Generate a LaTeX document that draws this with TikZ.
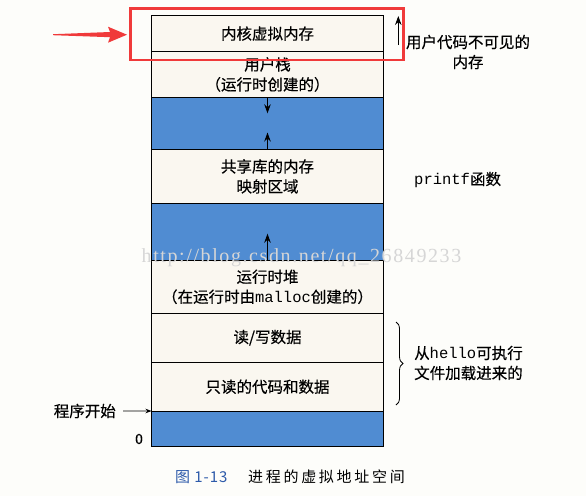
\documentclass[tikz,border=0pt]{standalone}
\usepackage{fontspec}
\setmainfont[FakeBold=0.4]{Noto Sans CJK SC}
\setmonofont{Liberation Mono}
\newfontfamily\wmfont[LetterSpace=8]{Liberation Serif}
\newfontfamily\capfont[LetterSpace=18]{Noto Sans CJK SC}
\newfontfamily\numfont[LetterSpace=6]{Noto Sans CJK SC}
\usepackage{tikz}
\usetikzlibrary{decorations.pathreplacing}
\usetikzlibrary{positioning}
\usetikzlibrary{arrows.meta}
\definecolor{memblue}{RGB}{80,140,210}
\definecolor{boxfill}{RGB}{250,247,240}
\definecolor{markred}{RGB}{240,58,58}
\definecolor{capblue}{RGB}{45,90,170}
\definecolor{pagebg}{RGB}{253,253,250}

\begin{document}
\begin{tikzpicture}[x=1pt,y=-1pt,inner sep=0pt,
    font=\fontsize{15.5}{20}\selectfont,
    seg/.style={anchor=north west,draw=black,line width=0.9pt,fill=boxfill,minimum width=232pt,outer sep=0pt,align=center},
    gap/.style={seg,fill=memblue},
    ptr/.style={-{Stealth[length=9pt,width=6.5pt]},line width=1pt}]
    \fill[pagebg] (0,0) rectangle (586,496);
    \useasboundingbox (0,0) rectangle (586,496);

    % the address space, top to bottom
    \node[seg,minimum height=36.2pt] (kern) at (151.5,15.5) {内核虚拟内存};
    \node[seg,minimum height=45.6pt,below=0pt of kern] (ustack) {用户栈\\（运行时创建的）};
    \node[gap,minimum height=52.2pt,below=0pt of ustack] (gapa) {};
    \node[seg,minimum height=53.8pt,below=0pt of gapa] (shlib) {共享库的内存\\映射区域};
    \node[gap,minimum height=57.4pt,below=0pt of shlib] (gapb) {};
    \node[seg,minimum height=52.3pt,below=0pt of gapb] (heap) {运行时堆\\（在运行时由\texttt{malloc}创建的）};
    \node[seg,minimum height=49.5pt,below=0pt of heap] (rwdata) {读/写数据};
    \node[seg,minimum height=48.5pt,below=0pt of rwdata] (rodata) {只读的代码和数据};
    \node[gap,minimum height=35.7pt,below=0pt of rodata] (bottom) {};

    % growth arrows
    \coordinate (stacktip) at ([yshift=-16pt]ustack.south);
    \coordinate (libtip) at ([yshift=17pt]shlib.north);
    \coordinate (heaptip) at ([yshift=27pt]heap.north);
    \draw[ptr] (ustack.south) -- (stacktip);
    \draw[ptr] (shlib.north) -- (libtip);
    \draw[ptr] (heap.north) -- (heaptip);

    % labels on the right
    \coordinate (hidbase) at (398.3,45);
    \coordinate (hidtip) at (398.3,16);
    \draw[ptr,line width=0.9pt] (hidbase) -- (hidtip);
    \node[align=center] (hidden) at (468,52) {用户代码不可见的\\内存};
    \node[anchor=west] (printf) at (414,180) {\texttt{printf}函数};
    \coordinate (bracetop) at (396,322);
    \coordinate (bracebot) at (396,405);
    \draw[decorate,decoration={brace,amplitude=7pt},line width=0.8pt] (bracetop) -- (bracebot);
    \node[anchor=west,align=left] (loaded) at (414,363) {从\texttt{hello}可执行\\文件加载进来的};

    % labels on the left
    \node[anchor=east] (start) at (116,411) {程序开始};
    \draw[-{Stealth[length=6pt,width=4.5pt]},line width=0.8pt,shorten <=7pt] (start.east) -- (bottom.north west);
    \node[font=\fontsize{14}{16}\selectfont] (zero) at (139,439) {0};

    % watermark
    \node[text=black!16,font=\wmfont\fontsize{20}{22}\selectfont] (mark) at (301.5,258) {http://blog.csdn.net/qq\_26849233};

    % caption
    \node[anchor=west,text=capblue,font=\numfont\fontsize{15}{18}\selectfont] (fignum) at (175,477) {图 1-13};
    \node[anchor=west,font=\capfont\fontsize{15}{18}\selectfont] (figtitle) at (248,477) {进程的虚拟地址空间};

    % red highlight
    \draw[markred,line width=2.6pt] (130.7,8.3) rectangle (403.3,60);
    \fill[markred] (53,34.2) -- (110,32) -- (108,26.7) -- (127,34.7) -- (108,42.7) -- (110,37.2) -- (53,35.2) -- cycle;
\end{tikzpicture}
\end{document}
